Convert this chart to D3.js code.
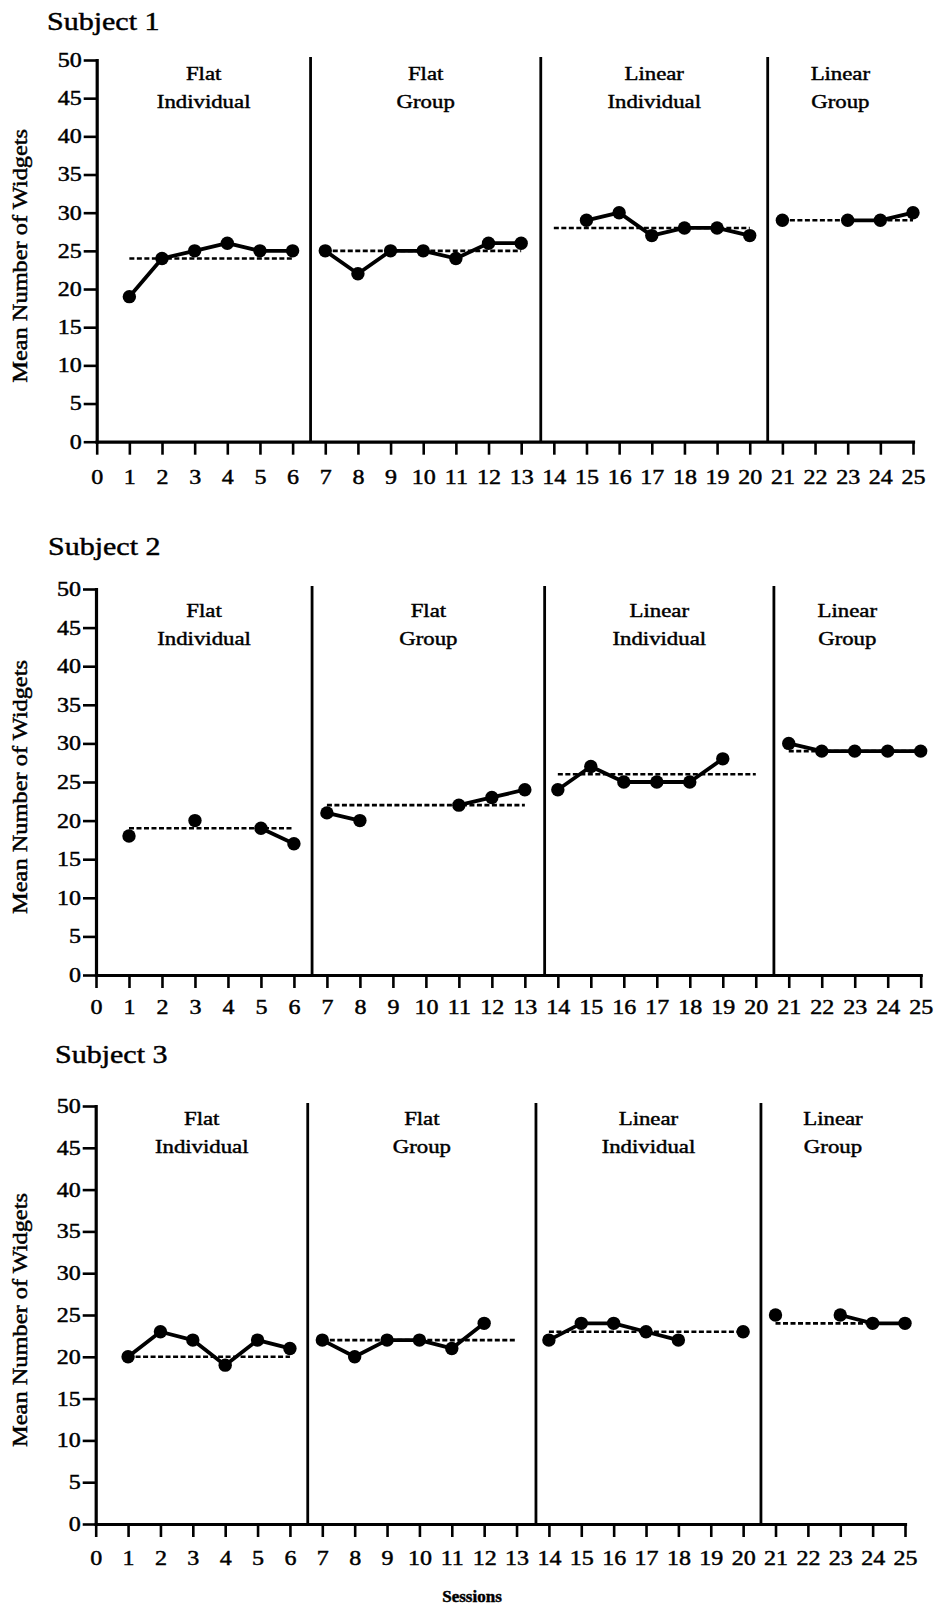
<!DOCTYPE html>
<html>
<head>
<meta charset="utf-8">
<script src="https://cdn.jsdelivr.net/npm/d3@7"></script>
<style>
  body { margin: 0; background: #fff; }
  svg { display: block; }
  text { font-family: "Liberation Serif", "Times New Roman", serif; fill: #000; stroke: #000; stroke-width: 0.45px; }
</style>
</head>
<body>
<svg id="chart" width="934" height="1609"></svg>
<script>
// Sessions on the x axis and their tick labels
const sessions = [1, 2, 3, 4, 5, 6, 7, 8, 9, 10, 11, 12, 13, 14, 15, 16, 17, 18, 19, 20, 21, 22, 23, 24, 25];
const xTickLabels = [0, 1, 2, 3, 4, 5, 6, 7, 8, 9, 10, 11, 12, 13, 14, 15, 16, 17, 18, 19, 20, 21, 22, 23, 24, 25];
const yTickLabels = [0, 5, 10, 15, 20, 25, 30, 35, 40, 45, 50];

// Experimental phases
const phaseTop = ["Flat", "Flat", "Linear", "Linear"];
const phaseBottom = ["Individual", "Group", "Individual", "Group"];
const phaseFirst = [1, 7, 14, 21];
const phaseLast = [6, 13, 20, 25];
const phaseBreaks = [6.55, 13.6, 20.55];

// Mean number of widgets per session (null = no session recorded)
const subjectNames = ["Subject 1", "Subject 2", "Subject 3"];
const subject1 = [19, 24, 25, 26, 25, 25, 25, 22, 25, 25, 24, 26, 26, null, 29, 30, 27, 28, 28, 27, 29, null, 29, 29, 30];
const subject2 = [18, null, 20, null, 19, 17, 21, 20, null, null, 22, 23, 24, 24, 27, 25, 25, 25, 28, null, 30, 29, 29, 29, 29];
const subject3 = [20, 23, 22, 19, 22, 21, 22, 20, 22, 22, 21, 24, null, 22, 24, 24, 23, 22, null, 23, 25, null, 25, 24, 24];

// Phase means (dashed reference lines)
const phaseMeans1 = [24, 25, 28, 29];
const phaseMeans2 = [19, 22, 26, 29];
const phaseMeans3 = [20, 22, 23, 24];

const seriesList = [subject1, subject2, subject3];
const meansList = [phaseMeans1, phaseMeans2, phaseMeans3];

// Panel geometry
const panels = [
  { top: 60,   bottom: 441.7, left: 96.7, right: 913,   titleX: 47, titleY: 30,   labelDy: 20, tickDy: 42 },
  { top: 589,  bottom: 975,   left: 96,   right: 920.7, titleX: 48, titleY: 555,  labelDy: 28, tickDy: 39 },
  { top: 1106, bottom: 1524,  left: 95.7, right: 905,   titleX: 55, titleY: 1063, labelDy: 19, tickDy: 41 }
];

const WIDE = 1.2; // horizontal stretch of the typeface
const svg = d3.select("#chart");

panels.forEach((P, i) => {
  const values = seriesList[i];
  const means = meansList[i];
  const g = svg.append("g");

  const x = d3.scaleLinear().domain([0, 25]).range([P.left, P.right]);
  const y = d3.scaleLinear().domain([0, 50]).range([P.bottom, P.top]);

  // Title
  g.append("text")
    .attr("transform", `translate(${P.titleX},${P.titleY}) scale(${WIDE},1)`)
    .attr("font-size", 25)
    .text(subjectNames[i]);

  // Y axis label
  g.append("text")
    .attr("transform", `translate(27,${(P.top + P.bottom) / 2 + 5}) rotate(-90) scale(1.22,1)`)
    .attr("text-anchor", "middle")
    .attr("font-size", 20)
    .text("Mean Number of Widgets");

  // Y axis
  const yAx = g.append("g")
    .attr("transform", `translate(${P.left},0)`)
    .call(d3.axisLeft(y).tickValues(yTickLabels).tickSize(13).tickSizeOuter(0).tickFormat(d => d));
  yAx.select(".domain").attr("stroke-width", 3.2).attr("stroke-linecap", "square");
  yAx.selectAll(".tick line").attr("stroke-width", 2.6);
  yAx.selectAll(".tick text")
    .attr("font-size", 20)
    .attr("x", -15 / WIDE)
    .attr("transform", `scale(${WIDE},1)`);

  // X axis
  const xAx = g.append("g")
    .attr("transform", `translate(0,${P.bottom})`)
    .call(d3.axisBottom(x).tickValues(xTickLabels).tickSize(13).tickSizeOuter(0).tickFormat(d => d));
  xAx.select(".domain").attr("stroke-width", 3.2).attr("stroke-linecap", "square");
  xAx.selectAll(".tick line").attr("stroke-width", 2.6);
  xAx.selectAll(".tick text")
    .attr("font-size", 20)
    .attr("y", P.tickDy)
    .attr("dy", 0)
    .attr("transform", `scale(${WIDE},1)`);
  g.selectAll(".tick text").attr("font-family", null);
  g.selectAll("g").attr("font-family", null);
  g.selectAll(".domain, .tick line").attr("stroke", "#000");

  // Phase change lines
  g.selectAll("line.phase-break")
    .data(phaseBreaks)
    .join("line")
    .attr("class", "phase-break")
    .attr("x1", d => x(d)).attr("x2", d => x(d))
    .attr("y1", y(50) - 3).attr("y2", y(0))
    .attr("stroke", "#000").attr("stroke-width", 2.8);

  // Phase labels
  const bounds = [0, ...phaseBreaks, 25];
  phaseTop.forEach((lab, j) => {
    const cx = x((bounds[j] + bounds[j + 1]) / 2);
    [lab, phaseBottom[j]].forEach((t, k) => {
      g.append("text")
        .attr("transform", `translate(${cx},${P.top + P.labelDy + k * 28}) scale(${WIDE},1)`)
        .attr("text-anchor", "middle")
        .attr("font-size", 19)
        .text(t);
    });
  });

  // Dashed phase means
  g.selectAll("line.mean")
    .data(means)
    .join("line")
    .attr("class", "mean")
    .attr("x1", (d, j) => x(phaseFirst[j]))
    .attr("x2", (d, j) => x(phaseLast[j]))
    .attr("y1", d => y(d)).attr("y2", d => y(d))
    .attr("stroke", "#000").attr("stroke-width", 2.6)
    .attr("stroke-dasharray", "5,2.5");

  // Session data, connected only within a phase
  const pts = sessions.map((s, k) => ({ s, v: values[k] }));
  const line = d3.line()
    .defined(d => d.v !== null)
    .x(d => x(d.s))
    .y(d => y(d.v));
  phaseFirst.forEach((f, j) => {
    const seg = pts.filter(d => d.s >= f && d.s <= phaseLast[j]);
    g.append("path")
      .datum(seg)
      .attr("d", line)
      .attr("fill", "none")
      .attr("stroke", "#000")
      .attr("stroke-width", 3.8)
      .attr("stroke-linejoin", "round");
  });

  g.selectAll("circle.pt")
    .data(pts.filter(d => d.v !== null))
    .join("circle")
    .attr("class", "pt")
    .attr("cx", d => x(d.s))
    .attr("cy", d => y(d.v))
    .attr("r", 6.7)
    .attr("fill", "#000");
});

// Shared x axis title
svg.append("text")
  .attr("x", 472).attr("y", 1602)
  .attr("text-anchor", "middle")
  .attr("font-size", 17)
  .attr("font-weight", "bold")
  .text("Sessions");
</script>
</body>
</html>
